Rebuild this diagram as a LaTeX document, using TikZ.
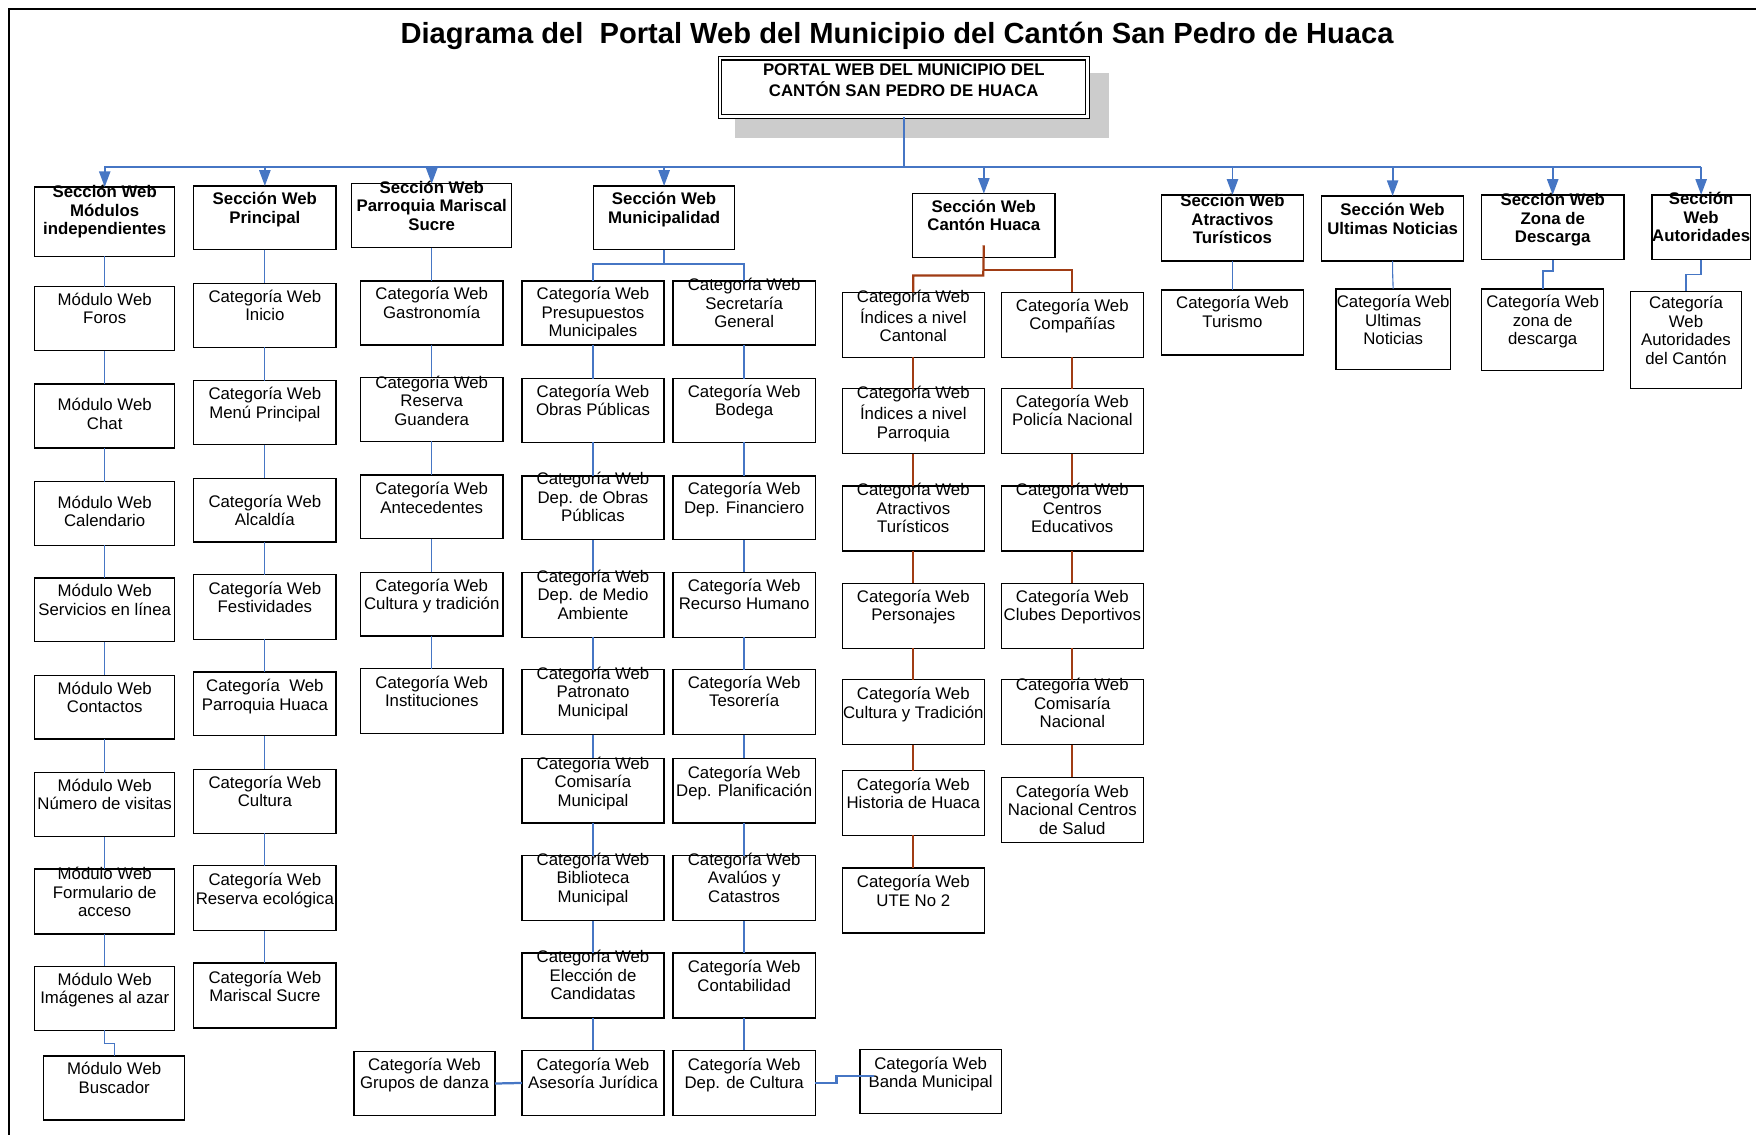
\documentclass[tikz,border=0pt]{standalone}
\usepackage{fontspec}
\setmainfont{Liberation Sans}
\usetikzlibrary{arrows.meta,calc}
\definecolor{lnblue}{RGB}{70,118,196}
\definecolor{lnred}{RGB}{160,60,20}
\definecolor{shadowgray}{RGB}{204,204,204}
\tikzset{
 boxs/.style={draw=black, line width=1.2pt, inner sep=0pt, outer sep=0pt, anchor=north west},
 txt/.style={inner sep=0pt, align=center, font=\fontsize{15}{16.5}\selectfont, anchor=north},
 txtb/.style={inner sep=0pt, align=center, font=\fontsize{15}{16.5}\selectfont\bfseries, anchor=north},
 thinb/.style={draw=lnblue, line width=1pt},
 thickb/.style={draw=lnblue, line width=2pt},
 redl/.style={draw=lnred, line width=2pt},
 arr/.style={draw=lnblue, fill=lnblue, line width=1.6pt, -{Triangle[width=10pt,length=14pt]}},
}
\newcommand\bx[7]{%
 \node[boxs, minimum width=#4pt, minimum height=#5pt] (#1) at (#2,#3) {};
 \node[txt] (#1t) at ({#2+#4/2},{#7-6}) {\strut #6};}
\newcommand\sx[7]{%
 \node[boxs, minimum width=#4pt, minimum height=#5pt] (#1) at (#2,#3) {};
 \node[txtb] (#1t) at ({#2+#4/2},{#7-6}) {\strut #6};}
\begin{document}
\begin{tikzpicture}[x=1pt,y=-1pt]
\useasboundingbox (0,0) rectangle (1568,1013);
% frame
\draw[line width=1.5pt] (8,1020) -- (8,8) -- (1575,8);
% title
\node[font=\fontsize{26}{30}\selectfont\bfseries, inner sep=0pt] (title) at (801,32) {Diagrama del\ \ Portal Web del Municipio del Cantón San Pedro de Huaca};
% root
\fill[shadowgray] (656,65) rectangle (990,123);
\node[draw=black, fill=white, line width=1pt, double=white, double distance=2.2pt, minimum width=328pt, minimum height=52pt, inner sep=0pt] (root) at (807,78) {};
\node[txtb] (roott) at (807,55.5) {\strut PORTAL WEB DEL MUNICIPIO DEL\\CANTÓN SAN PEDRO DE HUACA};

% sections
\sx{s1}{31}{167}{125}{62}{Sección Web\\Módulos\\independientes}{171}
\sx{s2}{173}{166}{127}{57}{Sección Web\\Principal}{177}
\sx{s3}{314}{164}{143}{57}{Sección Web\\Parroquia Mariscal\\Sucre}{167}
\sx{s4}{530}{166}{126}{57}{Sección Web\\Municipalidad}{177}
\sx{s5}{815}{173}{127}{57}{Sección Web\\Cantón Huaca}{184}
\sx{s6}{1037}{174}{127}{59}{Sección Web\\Atractivos\\Turísticos}{179}
\sx{s7}{1180}{175}{127}{58}{Sección Web\\Ultimas Noticias}{187}
\sx{s8}{1323}{174}{127}{58}{Sección Web\\Zona de\\Descarga}{178}
\sx{s9}{1475}{174}{88}{58}{Sección\\Web\\Autoridades}{177}

% column 1
\bx{m1}{31}{256}{125}{57}{Módulo Web\\Foros}{267}
\bx{m2}{31}{343}{125}{57}{Módulo Web\\Chat}{361}
\bx{m3}{31}{430}{125}{57}{Módulo Web\\Calendario}{448}
\bx{m4}{31}{516}{125}{57}{Módulo Web\\Servicios en línea}{527}
\bx{m5}{31}{603}{125}{57}{Módulo Web\\Contactos}{614}
\bx{m6}{31}{690}{125}{57}{Módulo Web\\Número de visitas}{701}
\bx{m7}{31}{776}{125}{58}{Módulo Web\\Formulario de\\acceso}{780}
\bx{m8}{31}{863}{125}{57}{Módulo Web\\Imágenes al azar}{874}
\bx{m9}{39}{943}{126}{57}{Módulo Web\\Buscador}{954}

% column 2
\bx{p1}{173}{253}{127}{57}{Categoría Web\\Inicio}{264}
\bx{p2}{173}{340}{127}{57}{Categoría Web\\Menú Principal}{351}
\bx{p3}{173}{427}{127}{57}{Categoría Web\\Alcaldía}{447}
\bx{p4}{173}{513}{127}{58}{Categoría Web\\Festividades}{525}
\bx{p5}{173}{600}{127}{57}{Categoría~ Web\\Parroquia Huaca}{612}
\bx{p6}{173}{687}{127}{57}{Categoría Web\\Cultura}{698}
\bx{p7}{173}{773}{127}{58}{Categoría Web\\Reserva ecológica}{785}
\bx{p8}{173}{860}{127}{58}{Categoría Web\\Mariscal Sucre}{872}

% column 3
\bx{q1}{322}{251}{127}{57}{Categoría Web\\Gastronomía}{262}
\bx{q2}{322}{337}{127}{57}{Categoría Web\\Reserva\\Guandera}{341}
\bx{q3}{322}{424}{127}{57}{Categoría Web\\Antecedentes}{436}
\bx{q4}{322}{511}{127}{57}{Categoría Web\\Cultura y tradición}{522}
\bx{q5}{322}{597}{127}{58}{Categoría Web\\Instituciones}{609}
\bx{gd}{316}{939}{126}{57}{Categoría Web\\Grupos de danza}{950}

% column 4 A
\bx{a1}{466}{251}{127}{57}{Categoría Web\\Presupuestos\\Municipales}{262}
\bx{a2}{466}{338}{127}{57}{Categoría Web\\Obras Públicas}{349}
\bx{a3}{466}{425}{127}{57}{Categoría Web\\Dep. de Obras\\Públicas}{427}
\bx{a4}{466}{511}{127}{58}{Categoría Web\\Dep. de Medio\\Ambiente}{514}
\bx{a5}{466}{598}{127}{58}{Categoría Web\\Patronato\\Municipal}{601}
\bx{a6}{466}{677}{127}{58}{Categoría Web\\Comisaría\\Municipal}{681}
\bx{a7}{466}{764}{127}{58}{Categoría Web\\Biblioteca\\Municipal}{767}
\bx{a8}{466}{851}{127}{58}{Categoría Web\\Elección de\\Candidatas}{854}
\bx{a9}{466}{938}{127}{58}{Categoría Web\\Asesoría Jurídica}{950}

% column 4 B
\bx{b1}{601}{251}{127}{57}{Categoría Web\\Secretaría\\General}{254}
\bx{b2}{601}{338}{127}{57}{Categoría Web\\Bodega}{349}
\bx{b3}{601}{425}{127}{57}{Categoría Web\\Dep. Financiero}{436}
\bx{b4}{601}{511}{127}{58}{Categoría Web\\Recurso Humano}{522}
\bx{b5}{601}{598}{127}{58}{Categoría Web\\Tesorería}{609}
\bx{b6}{601}{677}{127}{58}{Categoría Web\\Dep. Planificación}{689}
\bx{b7}{601}{764}{127}{58}{Categoría Web\\Avalúos y\\Catastros}{767}
\bx{b8}{601}{851}{127}{58}{Categoría Web\\Contabilidad}{863}
\bx{b9}{601}{938}{127}{58}{Categoría Web\\Dep. de Cultura}{950}
\bx{ban}{768}{937}{126}{57}{Categoría Web\\Banda Municipal}{949}

% column 5 A
\bx{c1}{752}{261}{127}{58}{Categoría Web\\Índices a nivel\\Cantonal}{264}
\bx{c2}{752}{347}{127}{58}{Categoría Web\\Índices a nivel\\Parroquia}{350}
\bx{c3}{752}{434}{127}{58}{Categoría Web\\Atractivos\\Turísticos}{437}
\bx{c4}{752}{521}{127}{58}{Categoría Web\\Personajes}{532}
\bx{c5}{752}{607}{127}{58}{Categoría Web\\Cultura y Tradición}{619}
\bx{c6}{752}{688}{127}{58}{Categoría Web\\Historia de Huaca}{700}
\bx{c7}{752}{775}{127}{58}{Categoría Web\\UTE No 2}{787}

% column 5 B
\bx{d1}{894}{261}{127}{58}{Categoría Web\\Compañías}{272}
\bx{d2}{894}{347}{127}{58}{Categoría Web\\Policía Nacional}{358}
\bx{d3}{894}{434}{127}{58}{Categoría Web\\Centros\\Educativos}{437}
\bx{d4}{894}{521}{127}{58}{Categoría Web\\Clubes Deportivos}{532}
\bx{d5}{894}{607}{127}{58}{Categoría Web\\Comisaría\\Nacional}{611}
\bx{d6}{894}{694}{127}{58}{Categoría Web\\Nacional Centros\\de Salud}{706}

% other columns
\bx{e1}{1037}{259}{127}{58}{Categoría Web\\Turismo}{270}
\bx{f1}{1193}{258}{102}{72}{Categoría Web\\Ultimas\\Noticias}{269}
\bx{g1}{1323}{258}{109}{73}{Categoría Web\\zona de\\descarga}{269}
\bx{h1}{1456}{260}{99}{87}{Categoría\\Web\\Autoridades\\del Cantón}{270}

% ---- connectors ----
\coordinate (busL) at (93,149);
\coordinate (busR) at (1519,149);
\draw[thickb] (root.south) -- (root.south |- busL);
\draw[thickb] (busL) -- (busR);
\foreach \s in {s1,s2,s3,s4,s5,s6,s7,s8,s9}
  \draw[arr] (\s.north |- busL) -- (\s.north);

% column 1
\draw[thinb] (s1.south) -- (m1.north);
\foreach \u/\v in {m1/m2,m2/m3,m3/m4,m4/m5,m5/m6,m6/m7,m7/m8}
  \draw[thinb] (\u.south) -- (\v.north);
\draw[thinb] (m8.south) -- ++(0,12) -| (m9.north);

% column 2
\draw[thinb] (s2.south) -- (p1.north);
\foreach \u/\v in {p1/p2,p2/p3,p3/p4,p4/p5,p5/p6,p6/p7,p7/p8}
  \draw[thinb] (\u.south) -- (\v.north);

% column 3
\draw[thinb] (s3.south) -- (q1.north);
\foreach \u/\v in {q1/q2,q2/q3,q3/q4,q4/q5}
  \draw[thinb] (\u.south) -- (\v.north);

% column 4
\coordinate (j4) at (593,236);
\draw[thickb] (s4.south) -- (j4);
\draw[thickb] (a1.north) |- (j4) -| (b1.north);
\foreach \u/\v in {a1/a2,a2/a3,a3/a4,a4/a5,a5/a6,a6/a7,a7/a8,a8/a9,b1/b2,b2/b3,b3/b4,b4/b5,b5/b6,b6/b7,b7/b8,b8/b9}
  \draw[thickb] (\u.south) -- (\v.north);
\draw[thickb] (a9.west) -- (gd.east);
\draw[thickb] (b9.east) -- ++(19,0) |- ([xshift=12pt,yshift=5pt]ban.west);

% column 5
\coordinate (j5a) at (878,246);
\coordinate (j5b) at (878,241);
\draw[redl] ([yshift=11pt]s5.south) -- (j5a) -| (c1.north);
\draw[redl] (j5b) -| (d1.north);
\foreach \u/\v in {c1/c2,c2/c3,c3/c4,c4/c5,c5/c6,c6/c7,d1/d2,d2/d3,d3/d4,d4/d5,d5/d6}
  \draw[redl] (\u.south) -- (\v.north);

% columns 6-9
\draw[thinb] (s6.south) -- (e1.north);
\draw[thinb] (s7.south) -- ++(0,10) -- (f1.north);
\draw[thickb, line width=1.5pt] (s8.south) -- ++(0,10) -| (g1.north);
\draw[thickb, line width=1.5pt] (s9.south) -- ++(0,13) -| (h1.north);
\end{tikzpicture}
\end{document}
